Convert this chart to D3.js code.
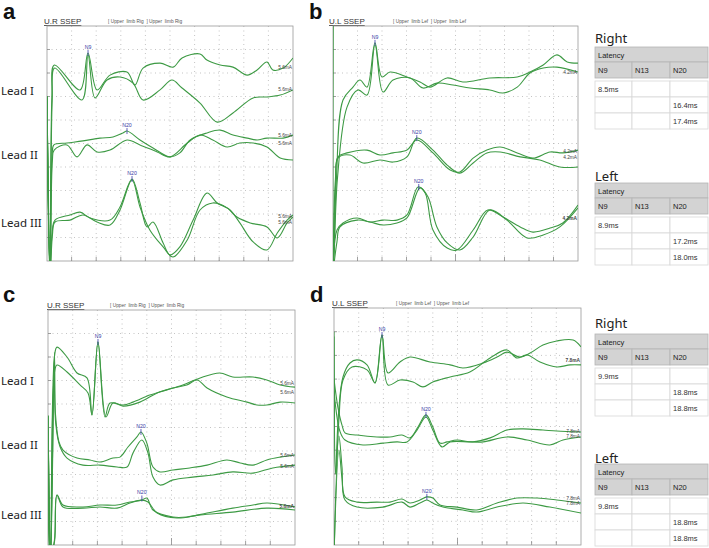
<!DOCTYPE html>
<html>
<head>
<meta charset="utf-8">
<script src="https://cdn.jsdelivr.net/npm/d3@7"></script>
<style>
  body { margin: 0; background: #fff; }
  svg { display: block; }
</style>
</head>
<body>
<svg id="chart" width="709" height="548"></svg>
<script>
// Waveforms: [latency ms, level in grid divisions from bottom of panel]
// Panel a - U.R SSEP
const a_I_1 = [[0,7.0],[0.55,-0.5],[1.0,7.0],[1.5,8.34],[6.71,7.28],[8.34,8.85],[10.17,7.28],[12.81,7.91],[16.26,8.04],[17.89,7.49],[19.52,8.21],[22.97,8.42],[25.62,8.25],[27.45,8.64],[31.1,8.81],[32.5,8.55],[35.2,8.34],[37.8,8.25],[40.7,7.91],[42.7,8.13],[44.7,8.47],[45.9,8.13],[48.0,8.21],[50,8.64]];
const a_I_2 = [[0,7.0],[0.6,-0.5],[1.05,6.8],[1.55,8.21],[7.12,6.85],[8.34,8.77],[9.76,6.94],[12.2,7.70],[14.84,7.83],[17.48,7.57],[19.52,6.85],[22.97,7.28],[25.4,7.70],[27.45,7.36],[31.1,6.72],[34.6,5.91],[37.8,6.30],[41.9,6.94],[44.7,6.98],[47.4,7.06],[50,7.28]];
const a_II_1 = [[0,7.0],[0.6,-0.5],[1.05,4.5],[1.4,4.94],[4.07,5.02],[7.32,5.11],[10.78,5.23],[13.42,5.28],[15.45,5.45],[16.26,5.53],[18.9,5.15],[21.55,4.81],[25.0,4.43],[27.0,4.60],[29.1,5.15],[32.5,5.45],[35.2,5.57],[37.8,5.36],[40.7,5.23],[42.7,5.15],[44.7,5.23],[48.0,5.23],[50,5.36]];
const a_II_2 = [[0,7.0],[0.65,-0.5],[1.1,4.3],[1.45,4.72],[4.07,4.94],[6.1,4.43],[8.13,4.94],[10.17,4.64],[12.81,4.72],[16.26,5.15],[18.9,4.94],[22.4,4.64],[25.0,4.43],[28.5,5.02],[31.1,5.36],[33.7,5.15],[36.6,4.85],[39.2,5.02],[41.9,5.02],[44.7,4.85],[47.4,4.38],[50,4.30]];
const a_III_1 = [[0,7.0],[0.6,-0.5],[1.05,1.2],[1.63,1.74],[4.68,1.96],[6.71,2.08],[8.74,1.83],[12.81,1.74],[14.84,2.30],[17.28,3.49],[18.9,2.47],[20.33,1.45],[21.55,1.66],[23.6,0.77],[25.0,0.26],[27.0,0.60],[29.7,1.74],[32.5,2.89],[34.6,2.47],[37.2,2.17],[39.2,1.62],[41.9,0.81],[44.7,0.47],[46.8,1.19],[48.8,1.74],[50,1.96]];
const a_III_2 = [[0,7.0],[0.65,-0.5],[1.1,1.1],[1.63,1.66],[4.68,1.74],[7.32,1.96],[10.17,1.66],[12.81,1.53],[14.84,2.17],[17.28,3.45],[18.9,2.30],[20.9,1.32],[23.6,0.60],[25.6,0.17],[28.5,0.89],[31.1,2.17],[33.7,2.47],[36.6,2.26],[38.6,1.87],[41.3,1.62],[44.7,1.45],[46.8,0.98],[48.8,1.62],[50,1.87]];

// Panel b - U.L SSEP
const b_I_1 = [[0,10.5],[0.1,0.0],[0.7,3.5],[2.04,6.85],[4.08,7.40],[5.51,7.70],[6.94,7.40],[8.57,9.28],[10.0,7.83],[11.63,8.04],[15.1,7.83],[17.76,7.62],[19.8,7.40],[23.27,7.79],[26.5,7.62],[32.0,7.79],[37.6,7.83],[40.2,8.04],[42.9,8.34],[45.7,8.77],[47.8,8.47],[50,8.42]];
const b_I_2 = [[0,10.5],[0.15,0.0],[0.9,3.5],[2.86,6.55],[5.1,7.28],[6.94,7.06],[8.57,9.19],[10.2,7.19],[12.25,7.70],[15.7,7.79],[18.4,7.36],[21.2,7.57],[24.5,7.49],[28.0,7.36],[32.0,7.28],[34.7,7.15],[37.6,7.40],[40.2,8.00],[42.9,8.21],[45.7,8.25],[50,8.04]];
const b_II_1 = [[0,-0.5],[0.5,3.5],[1.02,4.43],[2.86,4.60],[6.94,4.72],[9.59,4.51],[12.25,4.60],[15.1,4.72],[17.1,5.15],[20.4,4.60],[23.9,3.87],[25.9,3.79],[28.6,4.38],[31.4,4.72],[34.1,4.85],[37.6,4.60],[40.8,4.38],[44.3,4.64],[46.9,4.60],[50,4.72]];
const b_II_2 = [[0,-0.5],[0.55,3.3],[1.02,4.38],[3.47,4.51],[6.12,4.17],[9.59,4.30],[12.25,4.21],[15.1,4.43],[17.1,5.23],[20.4,4.72],[23.3,4.08],[25.9,3.74],[28.6,4.17],[31.4,4.60],[34.1,4.64],[38.2,4.43],[42.2,4.30],[46.3,4.0],[50,4.0]];
const b_III_1 = [[0,-0.5],[0.82,1.32],[2.04,1.62],[4.9,1.83],[7.55,1.66],[10.2,1.74],[13.06,1.74],[15.1,1.96],[17.35,3.15],[18.8,2.89],[20.4,1.32],[23.3,0.55],[25.3,0.47],[28.6,1.32],[31.6,2.17],[34.7,1.87],[38.2,1.45],[40.8,1.23],[44.3,1.40],[46.9,1.62],[50,2.38]];
const b_III_2 = [[0,-0.5],[0.8,0.8],[1.43,1.45],[4.9,1.74],[7.55,1.66],[10.2,1.53],[13.06,1.62],[15.1,1.83],[17.76,3.11],[19.4,2.72],[21.2,1.45],[23.3,0.77],[25.9,0.47],[28.6,1.02],[32.0,2.17],[35.5,1.74],[39.6,0.98],[42.9,1.11],[46.3,1.45],[50,2.26]];

// Panel c - U.R SSEP (follow-up)
const c_I_1 = [[0,5.5],[0.5,-0.5],[1.3,8.0],[1.82,8.42],[3.85,8.0],[5.87,7.32],[7.89,7.11],[8.9,5.53],[10.12,8.64],[11.54,5.45],[12.55,6.04],[15.18,5.96],[17.2,6.08],[20.6,6.38],[24.1,6.60],[27.3,6.81],[30.8,7.11],[34.8,7.32],[37.4,7.15],[41.5,7.15],[44.3,7.02],[47.0,6.81],[50,6.72]];
const c_I_2 = [[0,5.5],[0.55,-0.5],[1.35,7.4],[1.82,7.66],[3.85,7.36],[6.48,6.81],[8.1,6.47],[8.9,5.53],[10.12,8.64],[11.74,5.45],[13.16,6.04],[15.18,5.91],[18.6,6.08],[22.1,6.47],[25.3,6.68],[28.1,6.81],[30.2,7.02],[32.2,6.68],[36.2,6.30],[40.3,6.08],[42.3,5.96],[44.3,5.96],[47.0,6.08],[50,6.04]];
const c_II_1 = [[0,5.5],[0.5,-0.5],[1.3,8.2],[1.5,5.6],[2.2,4.4],[3.04,4.04],[5.87,3.70],[8.5,3.62],[10.52,3.53],[13.16,3.70],[14.57,3.74],[16.19,4.17],[18.0,4.60],[18.82,4.81],[20.0,4.34],[21.25,3.32],[22.67,3.11],[25.3,3.19],[28.7,3.28],[32.2,3.40],[36.2,3.62],[38.9,3.49],[41.5,3.40],[44.3,3.62],[47.0,3.74],[50,3.83]];
const c_II_2 = [[0,5.5],[0.55,-0.5],[1.3,8.0],[1.55,5.2],[2.4,4.2],[3.85,3.70],[7.08,3.40],[10.52,3.40],[13.97,3.32],[16.0,3.32],[17.2,3.91],[19.0,4.47],[20.24,3.91],[21.25,2.89],[22.67,2.55],[25.3,2.77],[29.3,2.89],[33.4,2.98],[37.4,3.11],[41.5,3.06],[45.5,3.28],[50,3.40]];
const c_III_1 = [[0,5.0],[0.5,-0.5],[1.3,0.2],[1.82,2.13],[3.04,1.70],[7.08,1.62],[10.52,1.70],[13.97,1.70],[16.6,1.83],[19.0,1.91],[20.0,2.0],[21.25,1.49],[25.3,1.19],[28.1,1.19],[32.2,1.36],[37.4,1.57],[41.5,1.70],[44.3,1.79],[50,1.62]];
const c_III_2 = [[0,5.0],[0.55,-0.5],[1.35,0.2],[1.82,2.13],[3.04,1.62],[7.08,1.57],[10.52,1.62],[13.97,1.57],[16.6,1.79],[19.0,1.91],[20.24,1.83],[22.1,1.36],[26.1,1.15],[30.8,1.28],[37.4,1.40],[44.3,1.57],[50,1.49]];

// Panel d - U.L SSEP (follow-up)
const d_I_1 = [[0,9.0],[0.3,3.0],[0.9,5.5],[1.82,7.09],[3.24,7.68],[4.66,7.81],[6.68,7.60],[8.3,6.84],[9.72,8.86],[10.93,7.26],[13.36,7.72],[15.38,7.93],[19.43,7.72],[23.5,7.60],[26.1,7.47],[30.2,7.68],[33.0,7.93],[35.0,8.14],[37.6,7.93],[39.7,8.10],[42.3,8.44],[45.1,8.61],[48.4,8.65],[50,8.36]];
const d_I_2 = [[0,8.8],[0.35,3.0],[1.0,5.3],[1.82,6.96],[3.64,7.51],[6.68,7.39],[8.3,6.84],[9.72,8.86],[10.93,6.75],[13.36,6.96],[16.0,6.88],[18.0,6.67],[20.0,6.88],[23.5,7.09],[27.5,7.30],[31.6,7.89],[35.0,8.23],[37.0,7.89],[39.1,8.02],[41.7,7.72],[45.1,7.51],[47.8,7.60],[50,7.60]];
const d_II_1 = [[0,7.0],[0.8,5.8],[1.62,5.06],[2.23,4.73],[4.66,4.64],[8.7,4.56],[11.33,4.56],[13.76,4.64],[15.38,4.52],[17.0,4.98],[18.62,5.49],[20.0,4.98],[21.45,4.30],[22.87,4.35],[24.9,4.43],[28.1,4.35],[31.6,4.52],[35.0,4.85],[38.25,4.90],[42.3,4.85],[45.1,4.81],[50,4.77]];
const d_II_2 = [[0,6.5],[1.2,4.8],[2.23,4.43],[5.87,4.22],[9.92,4.30],[12.75,4.35],[14.78,4.35],[16.8,4.85],[18.62,5.40],[20.0,4.85],[21.86,4.14],[23.5,4.35],[27.5,4.35],[30.2,4.35],[35.0,4.56],[39.1,4.43],[43.7,4.22],[46.35,4.43],[50,4.56]];
const d_III_1 = [[0,-0.5],[1.0,4.6],[1.62,3.29],[2.23,2.03],[4.66,1.81],[8.7,1.81],[11.33,1.81],[13.76,1.94],[15.38,1.77],[17.4,1.90],[18.8,2.03],[20.0,1.98],[21.45,1.69],[24.9,1.60],[28.9,1.48],[33.0,1.77],[37.0,1.98],[41.1,1.98],[45.1,1.90],[50,1.77]];
const d_III_2 = [[0,-0.5],[1.0,4.0],[1.62,2.8],[2.23,1.90],[4.66,1.60],[9.92,1.60],[13.76,1.81],[15.38,1.60],[17.4,1.77],[18.8,1.90],[20.0,1.77],[22.06,1.60],[26.1,1.48],[28.9,1.39],[33.0,1.60],[38.25,1.77],[43.7,1.60],[50,1.35]];

// Peak markers: [lead index, name, ms, level]
const a_peaks = [[0,"N9",8.34,8.85],[1,"N20",16.26,5.53],[2,"N20",17.28,3.49]];
const b_peaks = [[0,"N9",8.57,9.28],[1,"N20",17.1,5.23],[2,"N20",17.5,3.15]];
const c_peaks = [[0,"N9",10.12,8.64],[1,"N20",18.82,4.81],[2,"N20",19.0,1.98]];
const d_peaks = [[0,"N9",9.72,8.86],[1,"N20",18.62,5.49],[2,"N20",18.8,2.03]];

// Stimulus intensity labels at right end: [text, level, bold when two labels coincide]
const a_stim = [["5.6mA",8.25,0],["5.6mA",7.28,0],["5.6mA",5.36,0],["5.6mA",4.98,0],["5.6mA",1.90,0],["5.6mA",1.63,0]];
const b_stim = [["4.2mA",8.04,0],["4.2mA",4.64,0],["4.2mA",4.40,0],["4.2mA",1.79,1]];
const c_stim = [["5.6mA",6.89,0],["5.6mA",6.51,0],["5.6mA",3.79,0],["5.6mA",3.36,0],["5.6mA",1.62,1]];
const d_stim = [["7.8mA",7.80,1],["7.8mA",4.81,0],["7.8mA",4.56,0],["7.8mA",1.98,0],["7.8mA",1.75,0]];

const leadNames = ["Lead I", "Lead II", "Lead III"];
const xTicks = d3.range(0, 51, 5);   // 5 ms / div
const yTicks = d3.range(0, 11, 1);

// Latency tables
const tableCols = ["N9", "N13", "N20"];
const top_right = [["8.5ms","",""],["","","16.4ms"],["","","17.4ms"]];
const top_left = [["8.9ms","",""],["","","17.2ms"],["","","18.0ms"]];
const bot_right = [["9.9ms","",""],["","","18.8ms"],["","","18.8ms"]];
const bot_left = [["9.8ms","",""],["","","18.8ms"],["","","18.8ms"]];

const svg = d3.select("#chart");
const green = "#3d9a44";
const peakColor = "#3b3ba6";

const panels = [
  { key: "a", box: { x: 47, y: 26, w: 246, h: 235 }, letter: [3, 19], title: "U.R SSEP", side: "Rig",
    traces: [[a_I_1, a_I_2], [a_II_1, a_II_2], [a_III_1, a_III_2]], peaks: a_peaks, stim: a_stim,
    leadY: [95, 159, 227], titleX: 44, titleY: 24, subX: 108 },
  { key: "b", box: { x: 333, y: 26, w: 245, h: 235 }, letter: [309, 19], title: "U.L SSEP", side: "Lef",
    traces: [[b_I_1, b_I_2], [b_II_1, b_II_2], [b_III_1, b_III_2]], peaks: b_peaks, stim: b_stim,
    leadY: null, titleX: 329, titleY: 24, subX: 393 },
  { key: "c", box: { x: 48, y: 310, w: 247, h: 235 }, letter: [3, 302], title: "U.R SSEP", side: "Rig",
    traces: [[c_I_1, c_I_2], [c_II_1, c_II_2], [c_III_1, c_III_2]], peaks: c_peaks, stim: c_stim,
    leadY: [385, 449, 519], titleX: 47, titleY: 308, subX: 110 },
  { key: "d", box: { x: 334, y: 308, w: 247, h: 237 }, letter: [310, 302], title: "U.L SSEP", side: "Lef",
    traces: [[d_I_1, d_I_2], [d_II_1, d_II_2], [d_III_1, d_III_2]], peaks: d_peaks, stim: d_stim,
    leadY: null, titleX: 332, titleY: 306, subX: 396 }
];

const defs = svg.append("defs");

panels.forEach(p => {
  const b = p.box;
  const x = d3.scaleLinear().domain([0, 50]).range([b.x, b.x + b.w]);
  const y = d3.scaleLinear().domain([0, 10]).range([b.y + b.h, b.y]);
  const g = svg.append("g");

  // panel letter
  g.append("text").attr("x", p.letter[0]).attr("y", p.letter[1])
    .attr("font-family", "Liberation Sans, Arial, sans-serif").attr("font-weight", "bold")
    .attr("font-size", 22).attr("fill", "#111").text(p.key);

  // title
  g.append("text").attr("x", p.titleX).attr("y", p.titleY)
    .attr("font-family", "Liberation Sans, Arial, sans-serif").attr("font-size", 8)
    .attr("fill", "#333").attr("text-decoration", "underline").text(p.title);
  g.append("text").attr("x", p.subX).attr("y", p.titleY - 1)
    .attr("font-family", "Liberation Sans, Arial, sans-serif").attr("font-size", 4.8)
    .attr("fill", "#555").attr("xml:space", "preserve")
    .text(`[ Upper  limb ${p.side}  ] Upper  limb ${p.side}`);

  // grid
  g.selectAll(".vg").data(xTicks.slice(1, -1)).enter().append("line")
    .attr("x1", d => x(d)).attr("x2", d => x(d)).attr("y1", b.y).attr("y2", b.y + b.h)
    .attr("stroke", "#aaa").attr("stroke-width", 0.7).attr("stroke-dasharray", "1,3.5");
  g.selectAll(".hg").data(yTicks.slice(1, -1)).enter().append("line")
    .attr("x1", b.x).attr("x2", b.x + b.w).attr("y1", d => y(d)).attr("y2", d => y(d))
    .attr("stroke", "#aaa").attr("stroke-width", 0.7).attr("stroke-dasharray", "1,3.5");

  // ticks
  g.selectAll(".lt").data(yTicks.slice(1, -1)).enter().append("line")
    .attr("x1", b.x).attr("x2", b.x + 3).attr("y1", d => y(d)).attr("y2", d => y(d))
    .attr("stroke", "#888").attr("stroke-width", 0.8);
  g.selectAll(".bt").data(xTicks.slice(1, -1)).enter().append("line")
    .attr("x1", d => x(d)).attr("x2", d => x(d)).attr("y1", b.y + b.h)
    .attr("y2", d => b.y + b.h - (d === 25 ? 7 : 4))
    .attr("stroke", "#888").attr("stroke-width", 0.8);

  // frame
  g.append("rect").attr("x", b.x).attr("y", b.y).attr("width", b.w).attr("height", b.h)
    .attr("fill", "none").attr("stroke", "#999").attr("stroke-width", 0.8);

  // clip
  defs.append("clipPath").attr("id", "clip-" + p.key).append("rect")
    .attr("x", b.x).attr("y", b.y).attr("width", b.w).attr("height", b.h);

  const line = d3.line().x(d => x(d[0])).y(d => y(d[1])).curve(d3.curveCatmullRom.alpha(0.5));
  const tg = g.append("g").attr("clip-path", `url(#clip-${p.key})`);
  p.traces.forEach(pair => {
    pair.forEach(tr => {
      tg.append("path").attr("d", line(tr)).attr("fill", "none")
        .attr("stroke", green).attr("stroke-width", 1.1);
    });
  });

  // stimulus labels
  g.selectAll(".stim").data(p.stim).enter().append("text")
    .attr("x", b.x + b.w - 1).attr("y", d => y(d[1]) + 1.5)
    .attr("text-anchor", "end").attr("font-family", "Liberation Sans, Arial, sans-serif")
    .attr("font-size", 4.8).attr("font-weight", d => d[2] ? "bold" : "normal")
    .attr("fill", "#444").text(d => d[0]);

  // peak markers
  p.peaks.forEach(pk => {
    const px = x(pk[2]), py = y(pk[3]);
    g.append("line").attr("x1", px).attr("x2", px).attr("y1", py - 3).attr("y2", py + 3)
      .attr("stroke", peakColor).attr("stroke-width", 0.8);
    g.append("text").attr("x", px).attr("y", py - 4).attr("text-anchor", "middle")
      .attr("font-family", "Liberation Sans, Arial, sans-serif").attr("font-size", 5.2)
      .attr("fill", peakColor).text(pk[1]);
  });

  // lead names
  if (p.leadY) {
    p.leadY.forEach((ly, i) => {
      g.append("text").attr("x", 1).attr("y", ly)
        .attr("font-family", "Noto Sans, sans-serif").attr("font-size", 11.5)
        .attr("fill", "#222").text(leadNames[i]);
    });
  }
});

// Tables
const colX = [595, 632, 670, 708];
function drawTable(label, rows, labelY, top) {
  const g = svg.append("g").attr("font-family", "Liberation Sans, Arial, sans-serif");
  g.append("text").attr("x", 595).attr("y", labelY).attr("font-family", "Noto Sans, sans-serif")
    .attr("font-size", 13).attr("fill", "#222").text(label);
  // header "Latency"
  g.append("rect").attr("x", colX[0]).attr("y", top).attr("width", colX[3] - colX[0]).attr("height", 15)
    .attr("fill", "#d3d3d3").attr("stroke", "#b4b4b4").attr("stroke-width", 0.8);
  g.append("text").attr("x", colX[0] + 3).attr("y", top + 10.5).attr("font-size", 7.5)
    .attr("fill", "#222").text("Latency");
  // column header row
  tableCols.forEach((c, i) => {
    g.append("rect").attr("x", colX[i]).attr("y", top + 15).attr("width", colX[i + 1] - colX[i])
      .attr("height", 16).attr("fill", "#d3d3d3").attr("stroke", "#b4b4b4").attr("stroke-width", 0.8);
    g.append("text").attr("x", colX[i] + 3).attr("y", top + 26).attr("font-size", 7.5)
      .attr("fill", "#222").text(c);
  });
  // data rows
  rows.forEach((r, j) => {
    const ry = top + 34 + j * 16;
    r.forEach((v, i) => {
      g.append("rect").attr("x", colX[i]).attr("y", ry).attr("width", colX[i + 1] - colX[i])
        .attr("height", 16).attr("fill", "#fff").attr("stroke", "#d8d8d8").attr("stroke-width", 0.8);
      if (v) g.append("text").attr("x", colX[i] + 3).attr("y", ry + 11).attr("font-size", 7.5)
        .attr("fill", "#333").text(v);
    });
  });
}
drawTable("Right", top_right, 43, 47);
drawTable("Left", top_left, 181, 183);
drawTable("Right", bot_right, 328, 334);
drawTable("Left", bot_left, 463, 464);
</script>
</body>
</html>
